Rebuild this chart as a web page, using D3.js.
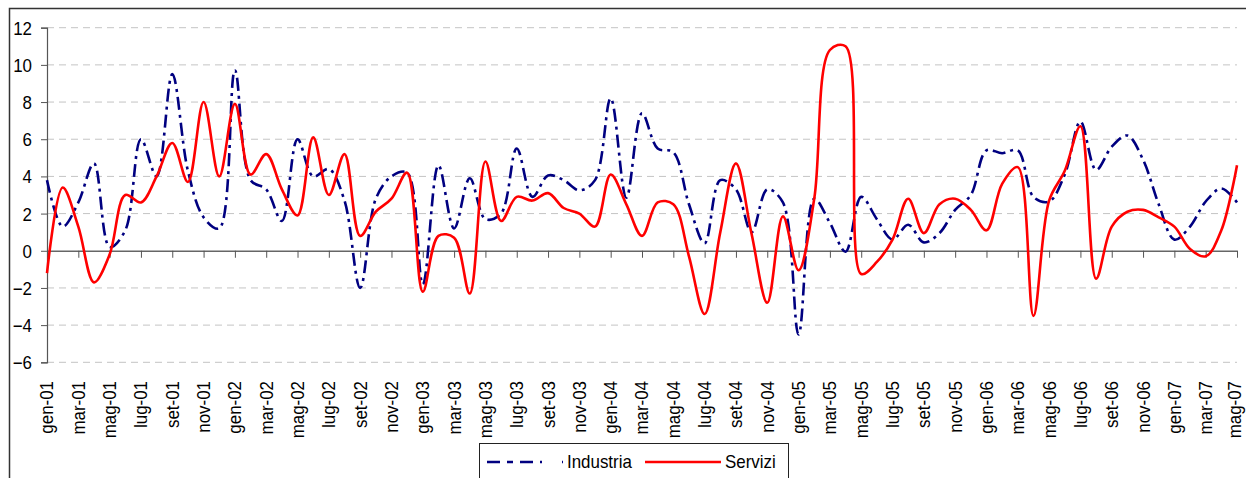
<!DOCTYPE html>
<html>
<head>
<meta charset="utf-8">
<script src="https://cdn.jsdelivr.net/npm/d3@7"></script>
<style>
  html, body { margin: 0; padding: 0; background: #fff; }
  svg { display: block; }
  text { font-family: "Liberation Sans", Arial, sans-serif; fill: #000; }
</style>
</head>
<body>
<svg id="chart" width="1246" height="478"></svg>
<script>
// ---- data ----
const monthNames = ["gen","feb","mar","apr","mag","giu","lug","ago","set","ott","nov","dic"];
const startYear = 2001;
const nMonths = 77; // gen-01 .. mag-07
const categories = d3.range(nMonths).map(i =>
  monthNames[i % 12] + "-" + String((startYear + Math.floor(i / 12)) % 100).padStart(2, "0"));

const industria = [
  3.8, 1.3, 2.6, 4.7, 0.2, 1.1, 6.0, 4.0, 9.5, 4.3, 1.8, 1.2,
  9.7, 3.8, 3.3, 1.6, 6.0, 4.0, 4.4, 2.7, -2.0, 2.8, 4.0, 4.2,
  -1.8, 4.6, 1.2, 3.9, 1.7, 2.0, 5.5, 2.9, 4.05, 3.8, 3.25, 3.8,
  8.2, 2.85, 7.4, 5.5, 5.3, 2.5, 0.4, 3.8, 3.3, 1.0, 3.3, 2.6,
  -4.5, 2.8, 1.5, -0.05, 2.9, 1.7, 0.6, 1.4, 0.45, 0.95, 2.2, 3.0,
  5.4, 5.25, 5.4, 2.9, 2.65, 4.1, 6.95, 4.35, 5.6, 6.2, 4.9, 2.5,
  0.6, 1.3, 2.65, 3.35, 2.6
];
const servizi = [
  -1.2, 3.4, 1.3, -1.7, -0.2, 3.0, 2.6, 4.0, 5.8, 3.7, 8.0, 4.0,
  7.9, 4.1, 5.2, 3.3, 1.9, 6.1, 3.0, 5.2, 0.8, 2.1, 2.8, 4.2,
  -2.2, 0.8, 0.7, -2.3, 4.8, 1.6, 2.9, 2.7, 3.1, 2.3, 2.0, 1.3,
  4.1, 2.5, 0.8, 2.6, 2.5, -0.3, -3.4, 1.0, 4.7, 0.9, -2.8, 1.85,
  -1.05, 2.8, 10.8, 11.0, -1.25, -0.6, 0.6, 2.8, 0.95, 2.5, 2.8, 2.2,
  1.1, 3.6, 4.5, -3.5, 2.7, 4.3, 6.7, -1.5, 1.3, 2.1, 2.2, 1.8,
  1.3, 0.1, -0.3, 1.1, 4.6
];
const yTicks = [-6, -4, -2, 0, 2, 4, 6, 8, 10, 12];
const seriesNames = ["Industria", "Servizi"];

// ---- drawing ----
const svg = d3.select("#chart");
const plotLeft = 47, plotRight = 1237, plotTop = 27.7, plotBottom = 362.3;
const FONT = '"Liberation Sans", Arial, sans-serif';
const SX = 0.94; // slight horizontal condensing

const x = d3.scaleLinear().domain([0, nMonths - 1]).range([plotLeft, plotRight]);
const y = d3.scaleLinear().domain([-6, 12]).range([plotBottom, plotTop]);

// outer frame
svg.append("path")
  .attr("d", `M9.5,600 L9.5,8.5 L1260,8.5`)
  .attr("fill", "none").attr("stroke", "#333").attr("stroke-width", 1.5);

// gridlines
svg.append("g").selectAll("line")
  .data(yTicks.filter(t => t !== 0))
  .join("line")
  .attr("x1", plotLeft).attr("x2", plotRight)
  .attr("y1", d => y(d)).attr("y2", d => y(d))
  .attr("stroke", "#c4c4c4").attr("stroke-width", 1)
  .attr("stroke-dasharray", "7,5");

// y axis
const yAxis = svg.append("g")
  .attr("transform", `translate(${plotLeft},0)`)
  .call(d3.axisLeft(y).tickValues(yTicks).tickSize(6).tickFormat(d3.format("d")));
yAxis.select(".domain").attr("stroke", "#555").attr("stroke-width", 1.2);
yAxis.selectAll(".tick line").attr("stroke", "#555");
yAxis.selectAll(".tick text")
  .attr("x", null).attr("dy", "0.36em")
  .attr("transform", `translate(-15,0) scale(${SX},1)`)
  .style("font-size", "18px").style("font-family", FONT).style("fill", "#000");

// x axis at zero
const xTickIdx = d3.range(0, nMonths, 2);
const xAxis = svg.append("g")
  .attr("transform", `translate(0,${y(0)})`)
  .call(d3.axisBottom(x).tickValues(xTickIdx).tickSize(7).tickSizeOuter(0).tickFormat(""));
xAxis.select(".domain").attr("stroke", "#666").attr("stroke-width", 1.6);
xAxis.selectAll(".tick line").attr("stroke", "#555");

// x labels (low position, rotated)
svg.append("g").selectAll("text")
  .data(xTickIdx)
  .join("text")
  .attr("transform", d => `translate(${Math.min(x(d), 1235)},381) rotate(-90) scale(${SX},1)`)
  .attr("text-anchor", "end")
  .attr("dy", "0.36em")
  .style("font-size", "18px")
  .text(d => categories[d]);

// lines
const line = d3.line()
  .x((d, i) => x(i))
  .y(d => y(d))
  .curve(d3.curveCatmullRom.alpha(0.5));

svg.append("path")
  .datum(industria)
  .attr("d", line)
  .attr("fill", "none")
  .attr("stroke", "#000080")
  .attr("stroke-width", 2.6)
  .attr("stroke-dasharray", "13,5,3,5");

svg.append("path")
  .datum(servizi)
  .attr("d", line)
  .attr("fill", "none")
  .attr("stroke", "#ff0000")
  .attr("stroke-width", 2.6);

// legend
const lg = svg.append("g");
lg.append("rect")
  .attr("x", 479.5).attr("y", 443.5).attr("width", 309).attr("height", 60)
  .attr("fill", "#fff").attr("stroke", "#222").attr("stroke-width", 1);
lg.append("line")
  .attr("x1", 487).attr("x2", 563).attr("y1", 462).attr("y2", 462)
  .attr("stroke", "#000080").attr("stroke-width", 2.6)
  .attr("stroke-dasharray", "13,7,6,7,13,7,2,20");
lg.append("text").attr("transform", `translate(567,468) scale(${SX},1)`)
  .style("font-size", "18px").text(seriesNames[0]);
lg.append("line")
  .attr("x1", 645).attr("x2", 721).attr("y1", 462).attr("y2", 462)
  .attr("stroke", "#ff0000").attr("stroke-width", 2.6);
lg.append("text").attr("transform", `translate(725,468) scale(${SX},1)`)
  .style("font-size", "18px").text(seriesNames[1]);
</script>
</body>
</html>
